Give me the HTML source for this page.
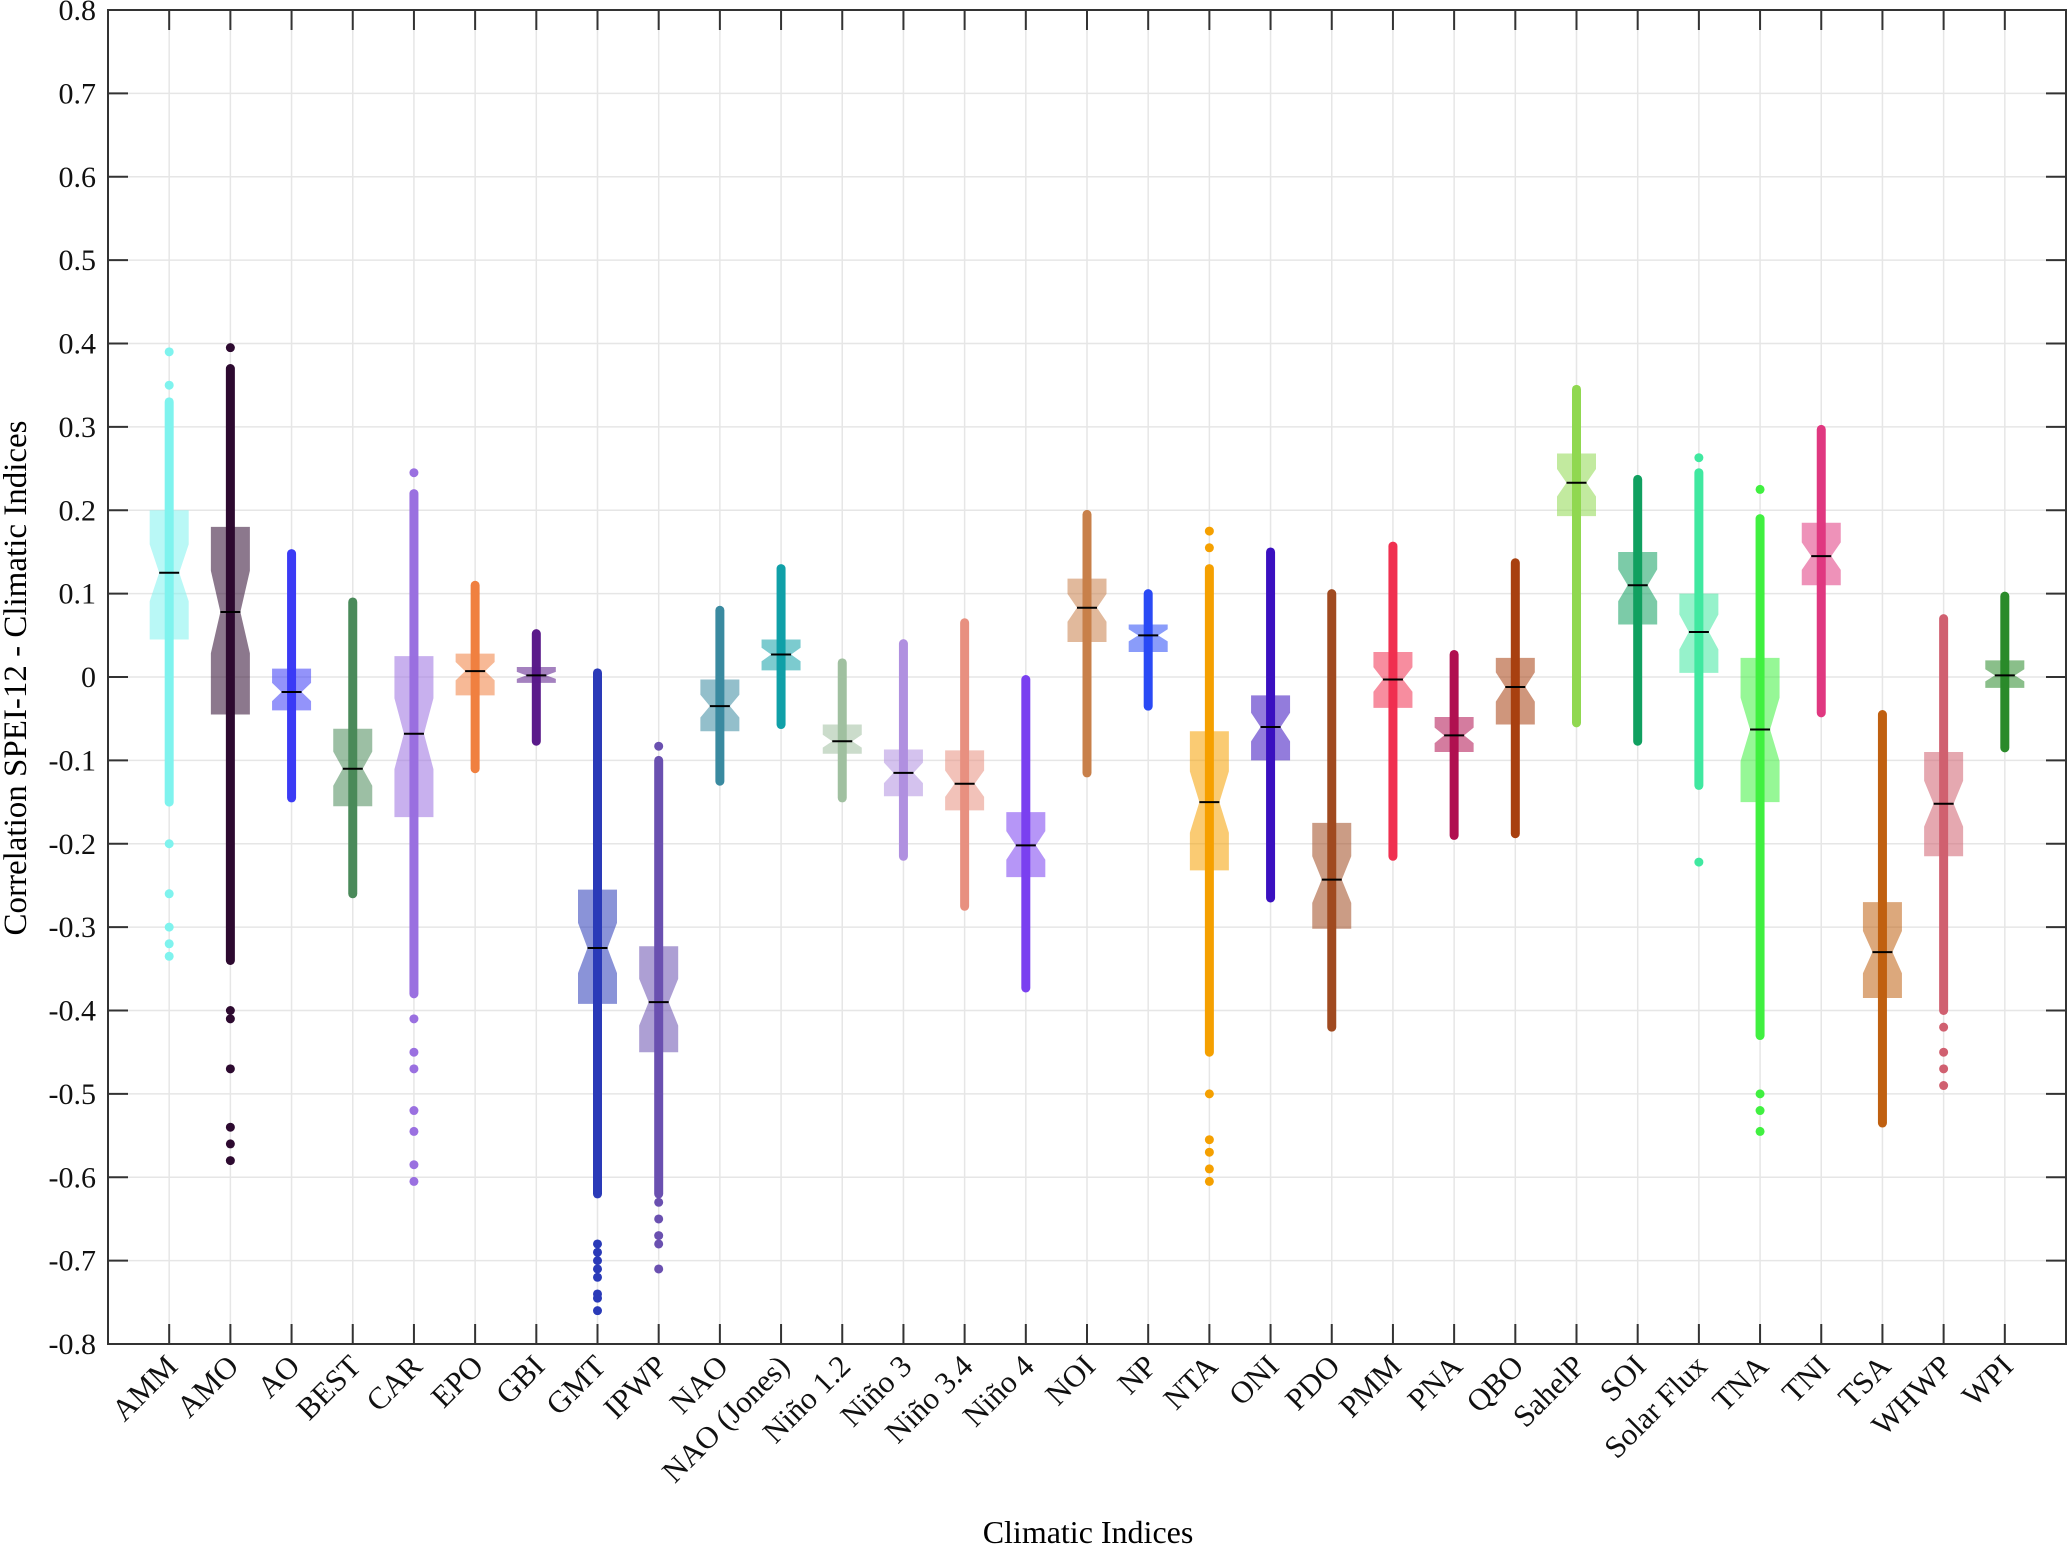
<!DOCTYPE html>
<html><head><meta charset="utf-8"><style>
html,body{margin:0;padding:0;background:#fff}
svg{display:block;font-family:"Liberation Serif",serif}
</style></head><body>
<svg id="chart" width="2067" height="1547" xmlns="http://www.w3.org/2000/svg">
<g id="grid"></g>
<g id="series"></g>
<g id="axes"></g>
<text x="1088" y="1543" font-size="32" text-anchor="middle">Climatic Indices</text>
<text transform="translate(26,678) rotate(-90)" font-size="33" text-anchor="middle">Correlation SPEI-12 - Climatic Indices</text>
</svg>
<script>
const categories=["AMM","AMO","AO","BEST","CAR","EPO","GBI","GMT","IPWP","NAO","NAO (Jones)","Niño 1.2","Niño 3","Niño 3.4","Niño 4","NOI","NP","NTA","ONI","PDO","PMM","PNA","QBO","SahelP","SOI","Solar Flux","TNA","TNI","TSA","WHWP","WPI"];
const colors=["#7ff3ee","#2d0a30","#3b3bf5","#4a8a5a","#9a70e0","#f08040","#5a1a8a","#2a3ab8","#6a50b0","#3a8aa0","#10a0a8","#a0c0a0","#b090e0","#e89080","#7a40f0","#c8804a","#2a4af5","#f5a000","#3a10c0","#a04a20","#f03050","#b01050","#a84010","#90d850","#10a060","#40e8a0","#40f040","#e03880","#c06010","#d06070","#2a8a2a"];
const denseMin=[-0.15,-0.34,-0.145,-0.26,-0.38,-0.11,-0.077,-0.62,-0.62,-0.125,-0.057,-0.145,-0.215,-0.275,-0.373,-0.115,-0.035,-0.45,-0.265,-0.42,-0.215,-0.19,-0.188,-0.055,-0.077,-0.13,-0.43,-0.043,-0.535,-0.4,-0.085];
const denseMax=[0.33,0.37,0.148,0.09,0.22,0.11,0.052,0.005,-0.10,0.08,0.13,0.017,0.04,0.065,-0.003,0.195,0.1,0.13,0.15,0.1,0.157,0.027,0.137,0.345,0.237,0.245,0.19,0.297,-0.045,0.07,0.097];
const q1=[0.045,-0.045,-0.04,-0.155,-0.168,-0.022,-0.007,-0.392,-0.45,-0.065,0.008,-0.092,-0.143,-0.16,-0.24,0.042,0.03,-0.232,-0.1,-0.302,-0.037,-0.09,-0.057,0.193,0.063,0.005,-0.15,0.11,-0.385,-0.215,-0.013];
const q3=[0.2,0.18,0.01,-0.062,0.025,0.028,0.012,-0.255,-0.323,-0.003,0.045,-0.057,-0.087,-0.088,-0.162,0.118,0.063,-0.065,-0.022,-0.175,0.03,-0.048,0.023,0.268,0.15,0.1,0.023,0.185,-0.27,-0.09,0.02];
const medians=[0.125,0.078,-0.018,-0.11,-0.068,0.007,0.002,-0.325,-0.39,-0.035,0.027,-0.077,-0.115,-0.128,-0.202,0.083,0.05,-0.15,-0.06,-0.243,-0.003,-0.07,-0.012,0.233,0.11,0.054,-0.063,0.145,-0.33,-0.152,0.002];
const outliers=[[0.39,0.35,-0.2,-0.26,-0.3,-0.32,-0.335],[0.395,-0.40,-0.41,-0.47,-0.54,-0.56,-0.58],[],[],[0.245,-0.41,-0.45,-0.47,-0.52,-0.545,-0.585,-0.605],[],[],[-0.68,-0.69,-0.7,-0.71,-0.72,-0.74,-0.745,-0.76],[-0.083,-0.63,-0.65,-0.67,-0.68,-0.71],[],[],[],[],[],[],[],[],[0.175,0.155,-0.5,-0.555,-0.57,-0.59,-0.605],[],[],[],[],[],[],[],[0.263,-0.222],[0.225,-0.5,-0.52,-0.545],[],[],[-0.42,-0.45,-0.47,-0.49],[]];
const yTicks=[0.8,0.7,0.6,0.5,0.4,0.3,0.2,0.1,0,-0.1,-0.2,-0.3,-0.4,-0.5,-0.6,-0.7,-0.8];

const NS="http://www.w3.org/2000/svg";
const L=108,R=2066,T=10,B=1344;
const xs=i=>L+(i+1)*(R-L)/32;
const ys=v=>T+(0.8-v)/1.6*(B-T);
function mk(tag,attrs,parent){const e=document.createElementNS(NS,tag);for(const k in attrs)e.setAttribute(k,attrs[k]);parent.appendChild(e);return e;}
const grid=document.getElementById('grid'),series=document.getElementById('series'),axes=document.getElementById('axes');

yTicks.forEach(v=>{
  const y=ys(v);
  const g=mk('line',{x1:L,x2:R,y1:y,y2:y,stroke:'#e6e6e6','stroke-width':1.5},grid);
  
  
  const t=mk('line',{x1:L,x2:L+20,y1:y,y2:y,stroke:'#333','stroke-width':2},axes);
  
  
  const t2=mk('line',{x1:R,x2:R-20,y1:y,y2:y,stroke:'#333','stroke-width':2},axes);
  
  
  const lb=mk('text',{x:96,y:y+10,'font-size':30,'text-anchor':'end',fill:'#111'},axes);
  lb.textContent=(v===0?'0':(v<0?'-':'')+Math.abs(v).toFixed(1));
  
  
});

categories.forEach((c,i)=>{
  const x=xs(i),col=colors[i];
  const g=mk('line',{x1:x,x2:x,y1:T,y2:B,stroke:'#e6e6e6','stroke-width':1.5},grid);
  
  
  const t=mk('line',{x1:x,x2:x,y1:B,y2:B-20,stroke:'#333','stroke-width':2},axes);
  
  
  const t2=mk('line',{x1:x,x2:x,y1:T,y2:T+20,stroke:'#333','stroke-width':2},axes);
  
  
  const lb=mk('text',{transform:`translate(${x+10},${B+24}) rotate(-45)`,'font-size':31,'text-anchor':'end',fill:'#111'},axes);
  lb.textContent=c;
  
  

  const grp=mk('g',{},series);
  
  
  const d=mk('line',{x1:x,x2:x,y1:ys(denseMax[i]),y2:ys(denseMin[i]),stroke:col,'stroke-width':9,'stroke-linecap':'round'},grp);
  
  
  outliers[i].forEach(v=>{
    const p=mk('circle',{cx:x,cy:ys(v),r:4.5,fill:col},grp);
    
    
  });
  const hw=19.5,nw=10,yq1=ys(q1[i]),yq3=ys(q3[i]),ym=ys(medians[i]);
  const nh=Math.min(0.22*(yq1-yq3),(ym-yq3)*0.9,(yq1-ym)*0.9);
  const pts=[[x-hw,yq3],[x+hw,yq3],[x+hw,ym-nh],[x+nw,ym],[x+hw,ym+nh],[x+hw,yq1],[x-hw,yq1],[x-hw,ym+nh],[x-nw,ym],[x-hw,ym-nh]].map(p=>p.join(',')).join(' ');
  const bx=mk('polygon',{points:pts,fill:col,'fill-opacity':0.55},grp);
  
  
  const m=mk('line',{x1:x-nw,x2:x+nw,y1:ym,y2:ym,stroke:'#000','stroke-width':2},grp);
  
  
});
const fr=mk('rect',{x:L,y:T,width:R-L,height:B-T,fill:'none',stroke:'#333','stroke-width':2},axes);


</script>
</body></html>
